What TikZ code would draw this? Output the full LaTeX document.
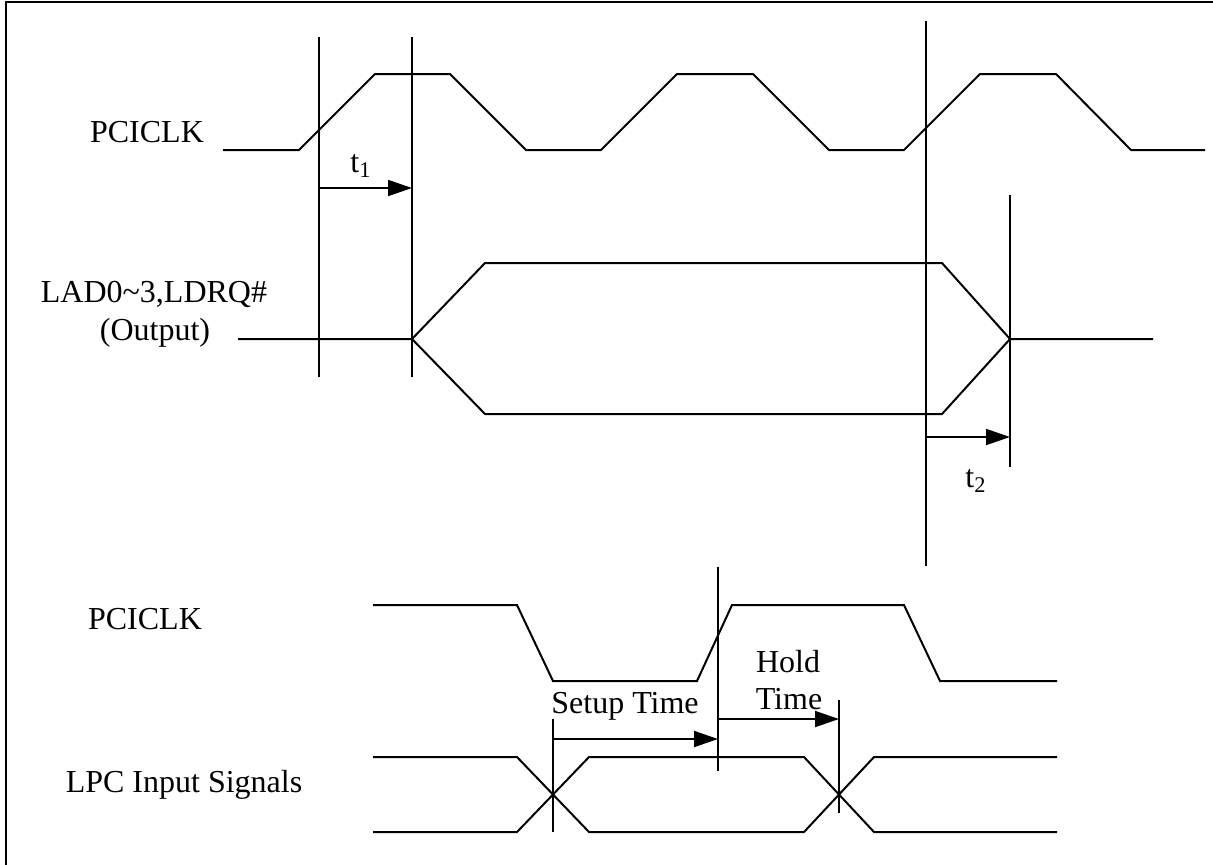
\documentclass[tikz,border=0pt]{standalone}
\usepackage{fontspec}
\setmainfont{Liberation Serif}
\usetikzlibrary{arrows.meta}
\begin{document}
\begin{tikzpicture}[x=0.5pt,y=-0.5pt,
  wave/.style={line width=1pt, line join=miter},
  thinv/.style={line width=0.55pt},
  thickv/.style={line width=1pt},
  tarrow/.style={line width=0.9pt,-{Triangle[length=12pt,width=8pt]}},
  lbl/.style={font=\fontsize{16}{19}\selectfont, inner sep=0pt, anchor=base}]
\useasboundingbox (0,0) rectangle (1213,864);
% frame
\draw[line width=1.2pt] (6,880) -- (6,2) -- (1230,2);

% ---------- upper diagram ----------
\node[lbl] (clkA) at (147,142) {PCICLK};
\node[lbl] (lad) at (154,302) {LAD0\textasciitilde 3,LDRQ\#};
\node[lbl] (outp) at (155,340) {(Output)};

\draw[wave] (223,150) -- (299,150) -- (375,74) -- (450,74) -- (526,150) -- (601,150)
  -- (677,74) -- (753,74) -- (829,150) -- (904,150) -- (980,74) -- (1056,74)
  -- (1131,150) -- (1205,150);

\coordinate (v1t) at (319,37);  \coordinate (v1b) at (319,377);
\coordinate (v2t) at (412,37);  \coordinate (v2b) at (412,377);
\draw[thinv] (v1t) -- (v1b);
\draw[thickv] (v2t) -- (v2b);
\coordinate (t1s) at (319,188); \coordinate (t1e) at (412,188);
\draw[tarrow] (t1s) -- (t1e);
\node[lbl] (t1) at (361,172) {t\textsubscript{1}};

\draw[wave] (238,339) -- (412,339) -- (485,263) -- (942,263) -- (1010,339) -- (1153,339);
\draw[wave] (412,339) -- (485,414) -- (942,414) -- (1010,339);

\coordinate (v3t) at (926,21);  \coordinate (v3b) at (926,566);
\coordinate (v4t) at (1010,195); \coordinate (v4b) at (1010,467);
\draw[thickv] (v3t) -- (v3b);
\draw[thickv] (v4t) -- (v4b);
\coordinate (t2s) at (926,437); \coordinate (t2e) at (1010,437);
\draw[tarrow] (t2s) -- (t2e);
\node[lbl] (t2) at (976,487) {t\textsubscript{2}};

% ---------- lower diagram ----------
\node[lbl] (clkB) at (145,629) {PCICLK};
\node[lbl] (lpc) at (184,792) {LPC Input Signals};

\draw[wave] (373,605) -- (517,605) -- (553,681) -- (697,681) -- (732,605) -- (904,605)
  -- (940,681) -- (1057,681);

\draw[wave] (373,757) -- (517,757) -- (589,832) -- (804,832) -- (874,757) -- (1057,757);
\draw[wave] (373,832) -- (517,832) -- (589,757) -- (804,757) -- (874,832) -- (1057,832);

\coordinate (v5t) at (553,719); \coordinate (v5b) at (553,832);
\coordinate (v6t) at (718,567); \coordinate (v6b) at (718,771);
\coordinate (v7t) at (839,700); \coordinate (v7b) at (839,813);
\draw[thinv] (v5t) -- (v5b);
\draw[thinv] (v6t) -- (v6b);
\draw[thinv] (v7t) -- (v7b);

\coordinate (sus) at (553,739); \coordinate (sue) at (718,739);
\draw[tarrow] (sus) -- (sue);
\node[lbl] (setup) at (625,713) {Setup Time};

\coordinate (hos) at (718,719); \coordinate (hoe) at (839,719);
\draw[tarrow] (hos) -- (hoe);
\node[lbl] (hold1) at (788,672) {Hold};
\node[lbl] (hold2) at (789,709) {Time};
\end{tikzpicture}
\end{document}
